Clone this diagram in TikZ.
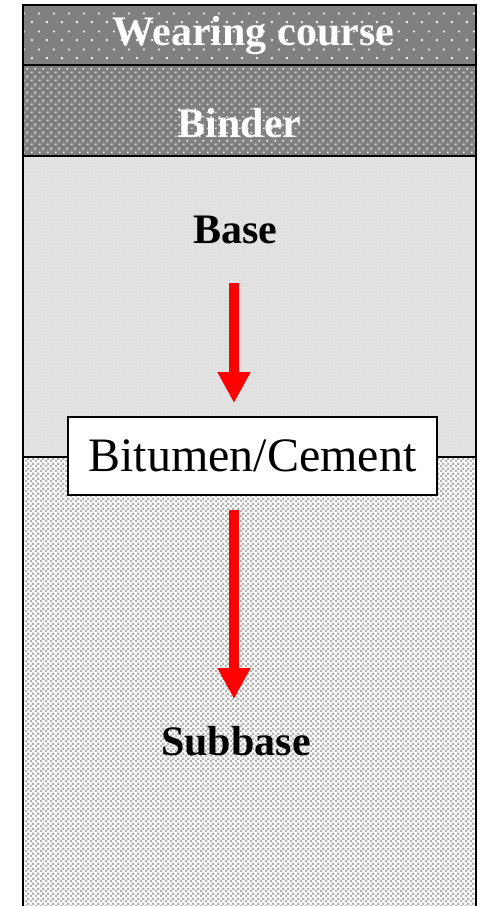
\documentclass[tikz,border=0pt]{standalone}
\usepackage{fontspec}
\setmainfont{Liberation Serif}
\usetikzlibrary{patterns.meta, arrows.meta}

% sparse staggered dots for the wearing course
\pgfdeclarepattern{name=wearDots, type=uncolored,
  bottom left={\pgfpoint{0pt}{0pt}}, top right={\pgfpoint{15pt}{18pt}},
  tile size={\pgfpoint{15pt}{18pt}},
  code={\pgfpathrectangle{\pgfpoint{1pt}{1pt}}{\pgfpoint{2pt}{2pt}}%
        \pgfpathrectangle{\pgfpoint{8.5pt}{10pt}}{\pgfpoint{2pt}{2pt}}%
        \pgfusepath{fill}}}
% dense staggered dots for the binder
\pgfdeclarepattern{name=binderDots, type=uncolored,
  bottom left={\pgfpoint{0pt}{0pt}}, top right={\pgfpoint{7.5pt}{8pt}},
  tile size={\pgfpoint{7.5pt}{8pt}},
  code={\pgfpathrectangle{\pgfpoint{1pt}{1pt}}{\pgfpoint{1.7pt}{1.7pt}}%
        \pgfpathrectangle{\pgfpoint{4.75pt}{5pt}}{\pgfpoint{1.7pt}{1.7pt}}%
        \pgfusepath{fill}}}
% fine grain for the base
\pgfdeclarepattern{name=baseGrain, type=uncolored,
  bottom left={\pgfpoint{0pt}{0pt}}, top right={\pgfpoint{3pt}{3pt}},
  tile size={\pgfpoint{3pt}{3pt}},
  code={\pgfpathrectangle{\pgfpoint{0.5pt}{0.5pt}}{\pgfpoint{1pt}{1pt}}%
        \pgfusepath{fill}}}
% gravel squares for the subbase
\pgfdeclarepattern{name=subGravel, type=uncolored,
  bottom left={\pgfpoint{0pt}{0pt}}, top right={\pgfpoint{5pt}{5pt}},
  tile size={\pgfpoint{5pt}{5pt}},
  code={\pgfpathrectangle{\pgfpoint{0.1pt}{0.1pt}}{\pgfpoint{2.5pt}{2.5pt}}%
        \pgfpathrectangle{\pgfpoint{2.6pt}{2.6pt}}{\pgfpoint{2.5pt}{2.5pt}}%
        \pgfusepath{fill}}}

\definecolor{darklayer}{HTML}{808080}
\definecolor{baselayer}{HTML}{E0E0E0}
\definecolor{gravel}{HTML}{B4B4B4}

\tikzset{
  layerline/.style={draw=black, line width=2pt},
  whitelabel/.style={text=white, font=\fontsize{42}{42}\selectfont\bfseries, anchor=base, inner sep=0pt},
  blacklabel/.style={text=black, font=\fontsize{42}{42}\selectfont\bfseries, anchor=base, inner sep=0pt},
  bindbox/.style={draw=black, line width=1.5pt, fill=white, minimum width=369pt,
    minimum height=78pt, inner sep=0pt, font=\fontsize{48}{48}\selectfont},
  flowarrow/.style={red, line width=10pt, -{Triangle[width=31pt,length=31pt]}}
}

\begin{document}
\begin{tikzpicture}[x=1pt, y=-1pt]
  \useasboundingbox (0,0) rectangle (481,906);
  \clip (0,0) rectangle (481,906);

  % layers
  \fill[darklayer] (23,5) rectangle (476,65);
  \fill[pattern=wearDots, pattern color=white!85!darklayer] (23,5) rectangle (476,65);
  \fill[darklayer] (23,65) rectangle (476,156);
  \fill[pattern=binderDots, pattern color=white!80!darklayer] (23,65) rectangle (476,156);
  \fill[baselayer] (23,156) rectangle (476,457);
  \fill[pattern=baseGrain, pattern color=white!60!baselayer] (23,156) rectangle (476,457);
  \fill[white] (23,457) rectangle (476,920);
  \fill[pattern=subGravel, pattern color=gravel] (23,457) rectangle (476,920);

  % outline and layer boundaries
  \draw[layerline] (23,920) -- (23,5) -- (476,5) -- (476,920);
  \draw[layerline] (23,65) -- (476,65);
  \draw[layerline] (23,156) -- (476,156);
  \draw[layerline] (23,457) -- (476,457);

  % labels
  \node[whitelabel] (wear) at (253.5,45) {Wearing course};
  \node[whitelabel] (binder) at (239.5,137) {Binder};
  \node[blacklabel] (base) at (235.5,243) {Base};
  \node[blacklabel] (subbase) at (236,755) {Subbase};
  \node[bindbox] (bc) at (252.5,456) {Bitumen/Cement};

  % flow arrows
  \coordinate (a1s) at (234,283);
  \coordinate (a1e) at (234,403);
  \coordinate (a2s) at (234,510);
  \coordinate (a2e) at (234,699);
  \draw[flowarrow] (a1s) -- (a1e);
  \draw[flowarrow] (a2s) -- (a2e);
\end{tikzpicture}
\end{document}
